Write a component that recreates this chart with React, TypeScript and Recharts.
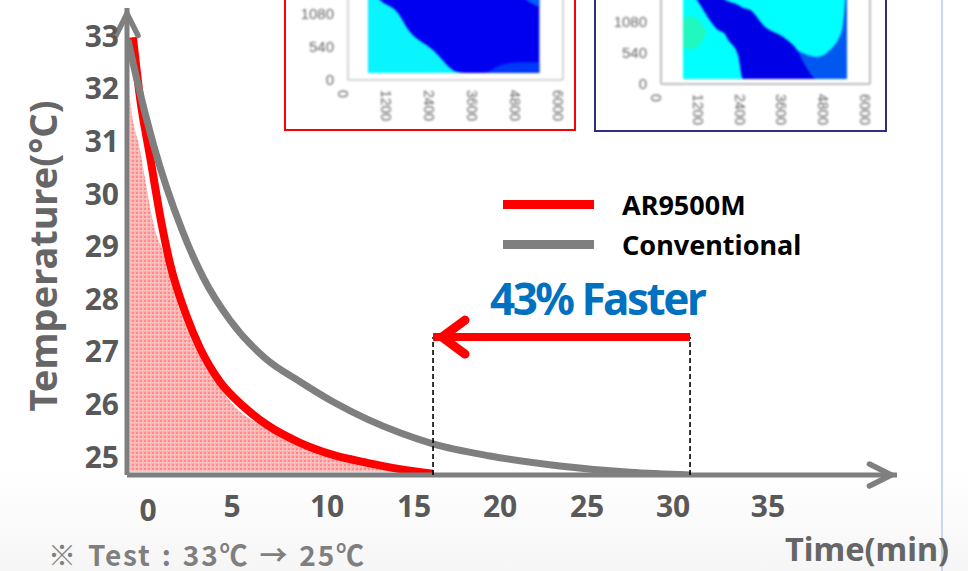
import {
  Area,
  ComposedChart,
  Legend,
  Line,
  ReferenceLine,
  XAxis,
  YAxis,
} from 'recharts';

const FONT = '"Noto Sans", sans-serif';
const RED = '#FF0000';
const GRAY = '#7F7F7F';

// main chart
const xTickPositions = [0.28, 4.98, 10.3, 15.17, 19.98, 24.85, 29.66, 34.97];
const xTickLabels = ['0', '5', '10', '15', '20', '25', '30', '35'];
const yTicks = [25, 26, 27, 28, 29, 30, 31, 32, 33];

const arTime = [-0.56, -0.17, 0.39, 1.06, 1.51, 2.46, 3.19, 4.31, 5.6, 6.94, 8.79, 10.63, 12.54, 14.38, 16.23];
const arTemp = [32.98, 31.84, 30.72, 29.4, 28.68, 27.66, 27.07, 26.43, 25.97, 25.61, 25.27, 25.04, 24.89, 24.77, 24.68];

const fillTime = [-0.75, -0.73, -0.17, 0.67, 1.23, 1.51, 3.3, 4.14, 5.04, 6.55, 8.79, 11.58, 14.38, 16.12];
const fillTemp = [31.98, 31.84, 30.84, 29.32, 28.8, 28.42, 26.84, 26.41, 25.99, 25.61, 25.19, 24.94, 24.73, 24.72];

const convTime = [-0.84, -0.34, 0.56, 2.18, 3.36, 4.87, 6.83, 8.79, 10.63, 12.54, 14.38, 16.23, 19.42, 23.33, 27.25, 30.61];
const convTemp = [32.93, 32.17, 30.97, 29.32, 28.42, 27.6, 26.88, 26.43, 26.05, 25.72, 25.46, 25.25, 25.02, 24.83, 24.71, 24.66];

const legendNames = ['AR9500M', 'Conventional'];
const legendColors = [RED, GRAY];

const xMin = -0.895;
const xMax = 42.19;
const yMin = 24.658;
const yMax = 33.536;
const arEnd = 16.23;
const convEnd = 30.61;
const arrowTemp = 27.28;

const zip = (a: number[], b: number[]) => a.map((t, i) => ({ t, v: b[i] }));
const arData = zip(arTime, arTemp);
const fillData = zip(fillTime, fillTemp);
const convData = zip(convTime, convTemp);

// insets
const insetXTicks = [0, 1200, 2400, 3600, 4800, 6000];
const insetYTicks = [0, 540, 1080];

const leftX = [560, 893, 1395, 1647, 2372, 3042, 3293, 3800, 4200, 4800, 5340];
const leftBlue = [1767, 1767, 1767, 1767, 1767, 1767, 1767, 1767, 1767, 1767, 1767];
const leftMid = [115, 115, 115, 115, 115, 115, 115, 115, 230, 290, 290];
const leftCyan = [1555, 1309, 1096, 851, 491, 131, 115, 115, 115, 115, 115];
const leftCornerX = [4900, 5100, 5340];
const leftCorner = [[1340, 1400], [1260, 1400], [1200, 1400]];

const rightX = [632, 1033, 1636, 1837, 1895, 2211, 2354, 2555, 2986, 3502, 3904, 4134, 4478, 4852, 5196, 5340];
const rightTop = [1951, 1951, 1951, 1951, 1951, 1951, 1951, 1951, 1951, 1951, 1951, 1951, 1951, 1951, 1951, 1951];
const rightMid = [1951, 1951, 1951, 1463, 1446, 1376, 1324, 1289, 993, 819, 592, 523, 470, 592, 941, 1951];
const rightBlue = [1951, 1951, 1951, 1463, 1446, 1376, 1324, 1289, 993, 819, 592, 331, 87, 87, 87, 87];
const rightCyan = [1812, 1463, 941, 871, 801, 505, 87, 87, 87, 87, 87, 87, 87, 87, 87, 87];
const greenX = [632, 900, 1150, 1300];
const greenBand = [[640, 1150], [600, 1180], [720, 1060], [880, 920]];

type Band = { key: string; color: string; values: number[] };

function Inset(props: {
  left: number;
  width: number;
  height: number;
  border: string;
  axisWidth: number;
  axisHeight: number;
  marginRight: number;
  yTop: number;
  base: number;
  axisColor: string;
  xs: number[];
  bands: Band[];
  patchX: number[];
  patch: number[][];
  patchColor: string;
}) {
  const { xs, bands } = props;
  const data = xs.map((x, i) => {
    const row: Record<string, number> = { x };
    bands.forEach((b) => {
      row[b.key] = b.values[i];
    });
    return row;
  });
  return (
    <div
      style={{
        position: 'absolute',
        left: props.left,
        top: -30,
        width: props.width,
        height: props.height,
        border: '2px solid ' + props.border,
        boxSizing: 'border-box',
        background: '#fff',
      }}
    >
      <div style={{ filter: 'blur(1.3px)' }}>
        <ComposedChart
          width={props.width - 4}
          height={props.height - 4}
          data={data}
          margin={{ top: 0, right: props.marginRight, left: 0, bottom: 0 }}
        >
          <XAxis
            dataKey="x"
            type="number"
            domain={[0, 6000]}
            ticks={insetXTicks}
            height={props.axisHeight}
            interval={0}
            tickLine={false}
            stroke={props.axisColor}
            strokeWidth={2}
            angle={90}
            textAnchor="start"
            tickMargin={4}
            tick={{ fontSize: 14, fill: '#666', fontFamily: 'Liberation Sans' }}
          />
          <YAxis
            type="number"
            domain={[0, props.yTop]}
            ticks={insetYTicks}
            width={props.axisWidth}
            tickLine={false}
            stroke={props.axisColor}
            strokeWidth={2}
            tickMargin={8}
            tick={{ fontSize: 15, fill: '#666', fontFamily: 'Liberation Sans' }}
          />
          <ReferenceLine x={6000} stroke={props.axisColor} strokeWidth={2} />
          {bands.map((b) => (
            <Area
              key={b.key}
              dataKey={b.key}
              type="monotone"
              baseValue={props.base}
              stroke="none"
              fill={b.color}
              fillOpacity={1}
              isAnimationActive={false}
              dot={false}
              activeDot={false}
            />
          ))}
          <Area
            data={props.patchX.map((x, i) => ({ x, g: props.patch[i] }))}
            dataKey="g"
            type="monotone"
            stroke="none"
            fill={props.patchColor}
            fillOpacity={1}
            isAnimationActive={false}
            dot={false}
            activeDot={false}
          />
        </ComposedChart>
      </div>
    </div>
  );
}

function XTick(props: any) {
  const { x, y, index } = props;
  return (
    <text
      x={x}
      y={index === 0 ? y + 4 : y}
      textAnchor="middle"
      dominantBaseline="central"
      fontFamily={FONT}
      fontWeight={700}
      fontSize={30}
      fill="#595959"
    >
      {xTickLabels[index]}
    </text>
  );
}

function YTitle() {
  return (
    <text
      transform="translate(42,256) rotate(-90)"
      textAnchor="middle"
      dominantBaseline="central"
      fontFamily={FONT}
      fontWeight={700}
      fontSize={38}
      fill="#666666"
    >
      Temperature(°C)
    </text>
  );
}

function LegendBox() {
  return (
    <div style={{ position: 'absolute', left: 503, top: 184 }}>
      {legendNames.map((name, i) => (
        <div key={name} style={{ display: 'flex', alignItems: 'center', height: 40 }}>
          <div style={{ width: 91, height: 9, background: legendColors[i], marginRight: 28 }} />
          <span style={{ fontFamily: FONT, fontWeight: 700, fontSize: 27, color: '#000' }}>{name}</span>
        </div>
      ))}
    </div>
  );
}

export default function App() {
  return (
    <div
      style={{
        position: 'fixed',
        left: 0,
        top: 0,
        width: 968,
        height: 571,
        overflow: 'hidden',
        background: 'linear-gradient(#ffffff 0%, #ffffff 82%, #f6f6f6 100%)',
      }}
    >
      <div style={{ position: 'absolute', left: 941, top: 0, width: 2, height: 571, background: '#C6D9F0' }} />

      <Inset
        left={284}
        width={292}
        height={161}
        border={RED}
        axisWidth={62}
        axisHeight={49}
        marginRight={11}
        yTop={1767}
        base={115}
        axisColor="#d4d4d4"
        xs={leftX}
        bands={[
          { key: 'blue', color: '#0000F0', values: leftBlue },
          { key: 'mid', color: '#0038F8', values: leftMid },
          { key: 'cyan', color: '#08F4FF', values: leftCyan },
        ]}
        patchX={leftCornerX}
        patch={leftCorner}
        patchColor="#0060F8"
      />
      <Inset
        left={594}
        width={293}
        height={162}
        border="#2E2E80"
        axisWidth={65}
        axisHeight={46}
        marginRight={15}
        yTop={1951}
        base={87}
        axisColor="#bdbdbd"
        xs={rightX}
        bands={[
          { key: 'top', color: '#00FFFF', values: rightTop },
          { key: 'mid', color: '#0058F0', values: rightMid },
          { key: 'blue', color: '#0000E6', values: rightBlue },
          { key: 'cyan', color: '#00FFFF', values: rightCyan },
        ]}
        patchX={greenX}
        patch={greenBand}
        patchColor="#20F8C0"
      />

      <div style={{ position: 'absolute', left: 0, top: 0 }}>
        <ComposedChart width={968} height={571} margin={{ top: 8, right: 71, left: 0, bottom: 0 }}>
          <defs>
            <pattern id="dots" width="4" height="4" patternUnits="userSpaceOnUse">
              <rect width="4" height="4" fill="#FFB4B4" />
              <rect width="2" height="2" fill="#FF8C8C" />
              <rect x="2" y="2" width="1" height="1" fill="#FFD8D8" />
            </pattern>
            <marker
              id="axisHead"
              markerUnits="userSpaceOnUse"
              orient="auto"
              markerWidth="44"
              markerHeight="40"
              refX="35.6"
              refY="20"
            >
              <path d="M8,9 L30,20 L8,31" fill="none" stroke={GRAY} strokeWidth="5.5" strokeLinecap="round" strokeLinejoin="miter" />
            </marker>
            <marker
              id="redHead"
              markerUnits="userSpaceOnUse"
              orient="auto"
              markerWidth="56"
              markerHeight="56"
              refX="45"
              refY="28"
            >
              <path d="M13,11 L36,28 L13,45" fill="none" stroke={RED} strokeWidth="9" strokeLinecap="round" strokeLinejoin="miter" />
            </marker>
          </defs>
          <XAxis
            dataKey="t"
            type="number"
            domain={[xMin, xMax]}
            allowDataOverflow
            ticks={xTickPositions}
            interval={0}
            height={96}
            axisLine={false}
            tickLine={false}
            tickSize={0}
            tickMargin={30}
            tick={<XTick />}
          />
          <YAxis
            type="number"
            domain={[yMin, yMax]}
            allowDataOverflow
            ticks={yTicks}
            interval={0}
            width={127}
            axisLine={false}
            tickLine={false}
            tickSize={0}
            tickMargin={8}
            tick={{ fontSize: 30, fontWeight: 700, fill: '#595959', fontFamily: FONT }}
            label={{ content: <YTitle /> }}
          />
          <Area
            data={fillData}
            dataKey="v"
            type="monotone"
            baseValue={24.72}
            stroke="none"
            fill="url(#dots)"
            fillOpacity={1}
            isAnimationActive={false}
            dot={false}
            activeDot={false}
            legendType="none"
          />
          <Line
            data={arData}
            dataKey="v"
            name={legendNames[0]}
            type="monotone"
            stroke={RED}
            strokeWidth={8}
            dot={false}
            activeDot={false}
            isAnimationActive={false}
          />
          <ReferenceLine
            segment={[{ x: xMin, y: yMin }, { x: xMin, y: yMax }]}
            stroke={GRAY}
            strokeWidth={5}
            markerEnd="url(#axisHead)"
          />
          <ReferenceLine
            segment={[{ x: xMin, y: yMin }, { x: xMax, y: yMin }]}
            stroke={GRAY}
            strokeWidth={5}
            markerEnd="url(#axisHead)"
          />
          <Line
            data={convData}
            dataKey="v"
            name={legendNames[1]}
            type="monotone"
            stroke={GRAY}
            strokeWidth={7}
            dot={false}
            activeDot={false}
            isAnimationActive={false}
          />
          <ReferenceLine
            segment={[{ x: arEnd, y: yMin }, { x: arEnd, y: arrowTemp }]}
            stroke="#000"
            strokeWidth={1.6}
            strokeDasharray="5 3"
          />
          <ReferenceLine
            segment={[{ x: convEnd, y: yMin }, { x: convEnd, y: arrowTemp }]}
            stroke="#000"
            strokeWidth={1.6}
            strokeDasharray="5 3"
          />
          <ReferenceLine
            segment={[{ x: convEnd, y: arrowTemp }, { x: arEnd, y: arrowTemp }]}
            stroke={RED}
            strokeWidth={8}
            markerEnd="url(#redHead)"
          />
          <Legend content={<LegendBox />} wrapperStyle={{ position: 'static' }} />
        </ComposedChart>
      </div>

      <div
        style={{
          position: 'absolute',
          left: 490,
          top: 268,
          fontFamily: FONT,
          fontWeight: 700,
          fontSize: 44,
          letterSpacing: -2.5,
          color: '#0070C0',
          whiteSpace: 'nowrap',
        }}
      >
        43% Faster
      </div>
      <div
        style={{
          position: 'absolute',
          left: 785,
          top: 526,
          fontFamily: FONT,
          fontWeight: 700,
          fontSize: 32.5,
          color: '#666666',
          whiteSpace: 'nowrap',
        }}
      >
        Time(min)
      </div>
      <div
        style={{
          position: 'absolute',
          left: 48,
          top: 539,
          lineHeight: '30px',
          fontFamily: '"Noto Sans CJK KR", sans-serif',
          fontWeight: 700,
          fontSize: 28,
          letterSpacing: 1.8,
          wordSpacing: 2,
          color: '#7F7F7F',
          whiteSpace: 'nowrap',
        }}
      >
        ※ Test : 33℃ → 25℃
      </div>
    </div>
  );
}
